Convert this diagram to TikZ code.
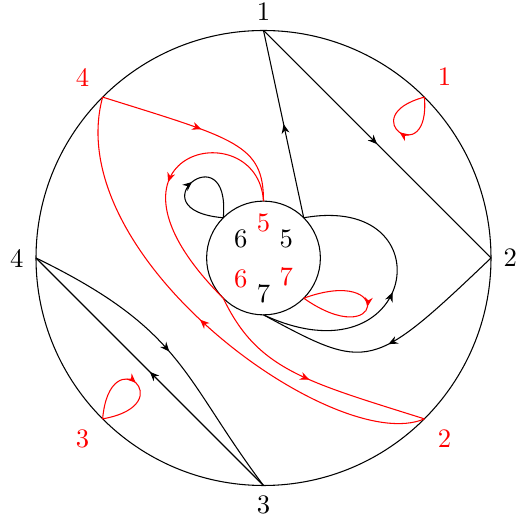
\documentclass[tikz,border=0pt]{standalone}
\usetikzlibrary{arrows.meta,decorations.markings}

\begin{document}
\begin{tikzpicture}
[
	midarrow/.style={postaction={decorate},decoration={markings,mark=at position 0.5 with {\arrow{Stealth[length=3.5pt,width=3pt]}}}},
	scale=0.75
]
	\useasboundingbox (-4.633,-4.677) rectangle (4.440,4.536);

	% circles
	\draw (0,0) circle (4);
	\draw (0,0) circle (1);

	% points on the outer circle
	\coordinate (o1) at (90:4);
	\coordinate (o2) at (0:4);
	\coordinate (o3) at (270:4);
	\coordinate (o4) at (180:4);
	\coordinate (q1) at (45:4);
	\coordinate (q2) at (315:4);
	\coordinate (q3) at (225:4);
	\coordinate (q4) at (135:4);

	% points on the inner circle
	\coordinate (in5) at (45:1);
	\coordinate (in6) at (135:1);
	\coordinate (in7) at (270:1);
	\coordinate (r5) at (90:1);
	\coordinate (r6) at (225:1);
	\coordinate (r7) at (315:1);

	% black paths
	\draw[midarrow] (o1) -- (o2);
	\draw[midarrow] (in5) -- (o1);
	\draw[midarrow] (o3) -- (o4);
	\draw[midarrow] (o4) .. controls +(2.61,-1.27) and +(-1.44,1.92) .. (o3);
	\draw[midarrow] (o2) .. controls +(-2.1,-2.0) and +(1.85,-1.0) .. (in7);
	\draw[midarrow] (in7) .. controls +(2.7,-1.25) and +(2.55,0.45) .. (in5);
	\draw[midarrow] (in6) .. controls +(175:1.6) and +(85:1.55) .. (in6);

	% red paths
	\draw[red,midarrow] (q1) .. controls +(-85:1.32) and +(195:1.32) .. (q1);
	\draw[red,midarrow] (q3) .. controls +(85:1.45) and +(10:1.45) .. (q3);
	\draw[red,midarrow] (r7) .. controls +(20:1.7) and +(-35:1.7) .. (r7);
	\draw[red,midarrow] (q4) .. controls +(2.33,-0.73) and +(0,1) .. (r5);
	\draw[red,midarrow] (r5) .. controls +(-0.1,1.6) and +(-2.6,2.6) .. (r6);
	\draw[red,midarrow] (r6) .. controls +(0.6,-1.26) and +(-2.09,0.66) .. (q2);
	\draw[red,midarrow] (q2) .. controls +(-1.53,-0.67) and +(-0.77,-2.83) .. (q4);

	% labels
	\node (l1) at (90:4.34) {1};
	\node (l2) at (0:4.34) {2};
	\node (l3) at (270:4.34) {3};
	\node (l4) at (180:4.34) {4};
	\node[red] (m1) at (45:4.5) {1};
	\node[red] (m2) at (315:4.5) {2};
	\node[red] (m3) at (225:4.5) {3};
	\node[red] (m4) at (135:4.5) {4};

	\node (l5) at (0.40,0.33) {5};
	\node (l6) at (-0.40,0.33) {6};
	\node (l7) at (0,-0.63) {7};
	\node[red] (m5) at (0,0.62) {5};
	\node[red] (m6) at (-0.40,-0.37) {6};
	\node[red] (m7) at (0.40,-0.33) {7};

\end{tikzpicture}
\end{document}
